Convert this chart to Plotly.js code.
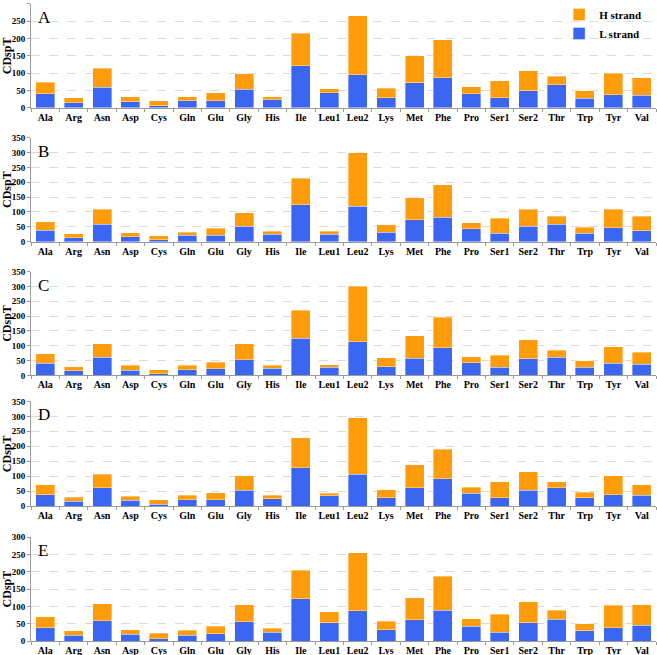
<!DOCTYPE html>
<html>
<head>
<meta charset="utf-8">
<script src="https://cdn.plot.ly/plotly-3.0.1.min.js"></script>
<style>
  body { margin: 0; background: #fff; }
  #chart { width: 657px; height: 655px; }
</style>
</head>
<body>
<div id="chart"></div>
<script>
var aminoAcids = ['Ala', 'Arg', 'Asn', 'Asp', 'Cys', 'Gln', 'Glu', 'Gly', 'His', 'Ile', 'Leu1',
    'Leu2', 'Lys', 'Met', 'Phe', 'Pro', 'Ser1', 'Ser2', 'Thr', 'Trp', 'Tyr', 'Val'];

// L strand (bottom, blue) and H strand (top, orange) per panel
var lStrandA = [40, 15, 60, 18, 6, 20, 20, 53, 23, 121, 44, 95, 29, 73, 87, 41, 29, 50, 67, 28, 38, 37];
var hStrandA = [34, 14, 54, 14, 14, 12, 23, 46, 9, 94, 11, 171, 27, 77, 110, 20, 49, 57, 24, 21, 62, 50];

var lStrandB = [38, 13, 58, 16, 7, 21, 22, 52, 25, 125, 25, 120, 31, 73, 83, 43, 28, 52, 59, 28, 46, 37];
var hStrandB = [29, 14, 52, 14, 13, 10, 23, 45, 10, 89, 10, 180, 26, 75, 109, 21, 51, 58, 26, 21, 64, 48];

var lStrandC = [41, 16, 62, 17, 6, 19, 23, 53, 24, 125, 28, 114, 29, 58, 94, 43, 27, 56, 61, 28, 41, 37];
var hStrandC = [32, 14, 45, 17, 13, 15, 22, 53, 10, 95, 8, 187, 30, 76, 102, 20, 41, 65, 24, 21, 56, 41];

var lStrandD = [38, 16, 61, 20, 7, 21, 21, 54, 25, 129, 35, 106, 28, 62, 92, 43, 29, 54, 62, 29, 38, 36];
var hStrandD = [34, 14, 45, 13, 15, 15, 24, 47, 11, 99, 8, 190, 27, 77, 98, 21, 52, 61, 20, 18, 63, 36];

var lStrandE = [38, 16, 59, 19, 6, 17, 21, 55, 26, 122, 53, 88, 32, 61, 89, 42, 26, 53, 63, 30, 39, 46];
var hStrandE = [32, 14, 48, 13, 16, 14, 22, 50, 11, 82, 32, 167, 25, 64, 98, 23, 51, 61, 26, 20, 64, 59];

var panelLetters = ['A', 'B', 'C', 'D', 'E'];
var yMax = [300, 350, 350, 350, 300];

var panels = [
    [lStrandA, hStrandA],
    [lStrandB, hStrandB],
    [lStrandC, hStrandC],
    [lStrandD, hStrandD],
    [lStrandE, hStrandE]
];

// pixel rows of each plot area (top, bottom)
var rows = [[3, 107], [137, 241], [271, 375], [401, 506], [537, 641]];
var H = 655;

var blue = '#3b66f2';
var orange = '#ff9c0c';
var serif = 'Liberation Serif, Times New Roman, serif';

var data = [];
var layout = {
    width: 657,
    height: 655,
    margin: {l: 31, r: 1, t: 0, b: 0},
    barmode: 'stack',
    bargap: 0.33,
    paper_bgcolor: '#fff',
    plot_bgcolor: '#fff',
    showlegend: true,
    legend: {
        x: 0.845, xanchor: 'left',
        y: 1.002, yanchor: 'top',
        traceorder: 'reversed',
        font: {family: serif, size: 11, color: '#000', weight: 'bold'},
        bgcolor: 'rgba(0,0,0,0)',
        tracegroupgap: 0
    },
    annotations: []
};

panels.forEach(function (p, i) {
    var n = i === 0 ? '' : String(i + 1);
    data.push({
        x: aminoAcids, y: p[0], type: 'bar', name: 'L strand',
        xaxis: 'x' + n, yaxis: 'y' + n,
        marker: {color: blue, line: {color: 'rgba(255,255,255,0.6)', width: 0.6}},
        showlegend: i === 0, legendgroup: 'L', hoverinfo: 'skip'
    });
    data.push({
        x: aminoAcids, y: p[1], type: 'bar', name: 'H strand',
        xaxis: 'x' + n, yaxis: 'y' + n,
        marker: {color: orange, line: {color: 'rgba(255,255,255,0.6)', width: 0.6}},
        showlegend: i === 0, legendgroup: 'H', hoverinfo: 'skip'
    });

    layout['xaxis' + n] = {
        anchor: 'y' + n,
        domain: [0, 1],
        showline: true,
        linecolor: '#9a9a9a',
        linewidth: 1,
        ticks: 'outside',
        tickson: 'boundaries',
        ticklen: 3,
        tickcolor: '#9a9a9a',
        tickangle: 0,
        showgrid: false,
        tickfont: {family: serif, size: 10, color: '#000', weight: 'bold'}
    };
    layout['yaxis' + n] = {
        anchor: 'x' + n,
        domain: [1 - rows[i][1] / H, 1 - rows[i][0] / H],
        range: [0, yMax[i]],
        dtick: 50,
        showline: true,
        linecolor: '#9a9a9a',
        linewidth: 1,
        ticks: 'outside',
        ticklen: 3,
        tickcolor: '#9a9a9a',
        showgrid: true,
        gridcolor: '#dcdcdc',
        griddash: 'dash',
        zeroline: false,
        tickfont: {family: serif, size: 9, color: '#000', weight: 'bold'},
        title: {text: 'CDspT', font: {family: serif, size: 12, color: '#000', weight: 'bold'}, standoff: 4}
    };
    layout.annotations.push({
        text: panelLetters[i],
        xref: 'x' + n + ' domain', yref: 'y' + n + ' domain',
        x: 0.008, y: 0.98, xanchor: 'left', yanchor: 'top',
        showarrow: false,
        font: {family: serif, size: 17, color: '#000'}
    });
});

Plotly.newPlot('chart', data, layout, {displayModeBar: false});
</script>
</body>
</html>
